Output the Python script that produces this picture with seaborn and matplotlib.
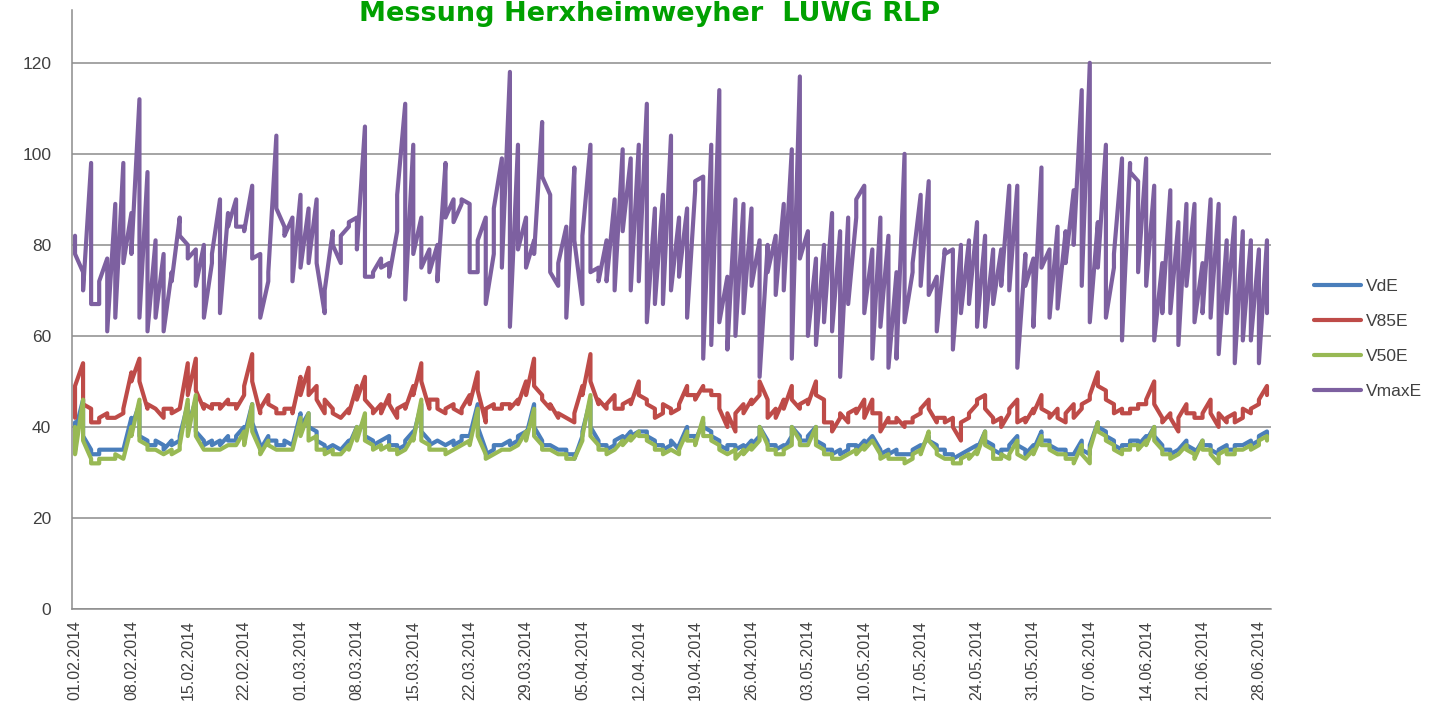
import pandas as pd
import numpy as np
import matplotlib
matplotlib.use("Agg")
import matplotlib.pyplot as plt
import matplotlib.dates as mdates
import seaborn as sns

# two readings per day, 01.02.2014 - 29.06.2014
days = pd.date_range("2014-02-01", "2014-06-29", freq="D")

vde = [41,39, 46,38, 35,34, 34,35, 35,35, 35,35, 35,35, 42,40, 45,38, 37,36,
       36,37, 36,35, 37,36, 37,38, 45,40, 46,39, 37,36, 37,36, 37,36, 38,37,
       37,38, 40,38, 45,41, 36,35, 38,37, 37,36, 36,37, 36,36, 43,40, 43,40,
       39,37, 36,35, 36,36, 35,35, 37,36, 40,38, 42,38, 37,36, 37,37, 38,36,
       36,35, 36,37, 39,38, 45,39, 37,36, 37,37, 36,36, 37,36, 37,38, 38,38,
       45,40, 35,34, 35,36, 36,36, 37,36, 37,38, 39,38, 45,40, 37,36, 36,36,
       35,35, 35,34, 34,33, 38,39, 46,40, 37,36, 36,35, 36,37, 38,37, 39,38,
       39,39, 39,38, 37,36, 36,35, 36,37, 35,36, 40,38, 38,37, 41,40, 39,38,
       37,36, 35,36, 36,35, 36,35, 37,36, 38,40, 37,36, 36,35, 36,35, 38,40,
       38,37, 37,38, 40,37, 36,35, 35,34, 35,34, 35,36, 36,35, 37,36, 38,38,
       35,34, 35,34, 35,34, 34,34, 34,35, 36,35, 38,37, 36,35, 35,34, 34,33,
       34,34, 35,35, 36,35, 39,37, 36,35, 34,35, 35,36, 38,36, 35,34, 36,35,
       39,37, 37,36, 35,35, 35,34, 34,34, 37,35, 34,36, 41,40, 39,38, 37,36,
       35,36, 36,37, 37,36, 38,37, 40,38, 36,35, 35,34, 35,35, 37,36, 35,34,
       37,36, 36,35, 34,35, 36,35, 35,36, 36,36, 37,36, 37,38, 39,38]

v85 = [42,49, 54,45, 44,41, 41,42, 43,42, 42,42, 43,44, 52,50, 55,50, 44,45,
       44,44, 42,44, 44,43, 44,44, 54,47, 55,48, 44,45, 44,45, 45,44, 46,45,
       45,44, 47,49, 56,50, 43,44, 47,45, 44,43, 43,44, 44,43, 51,47, 53,47,
       49,46, 43,46, 44,43, 42,42, 44,43, 49,46, 51,46, 44,43, 45,43, 47,45,
       42,44, 45,44, 49,47, 54,50, 44,46, 46,44, 43,44, 45,44, 43,44, 47,45,
       52,48, 41,44, 45,44, 44,45, 45,44, 46,45, 50,47, 55,49, 47,46, 44,45,
       42,43, 42,42, 41,43, 49,47, 56,50, 45,46, 44,45, 47,44, 44,45, 46,45,
       50,47, 46,45, 44,42, 43,45, 44,43, 44,45, 49,47, 47,46, 49,48, 48,47,
       47,44, 40,43, 39,43, 45,43, 46,45, 47,50, 46,42, 44,42, 46,44, 49,46,
       44,45, 46,45, 50,47, 46,41, 41,39, 42,43, 41,43, 44,43, 46,42, 46,43,
       43,39, 42,41, 41,42, 40,41, 41,42, 43,44, 46,44, 41,42, 42,41, 42,40,
       37,41, 42,43, 45,46, 47,44, 42,41, 42,40, 43,44, 46,41, 42,41, 44,43,
       47,44, 43,42, 44,42, 41,43, 45,42, 44,45, 46,47, 52,49, 48,46, 45,43,
       44,43, 43,44, 44,45, 45,46, 50,45, 42,41, 43,42, 39,42, 45,43, 43,42,
       42,43, 46,43, 40,43, 41,42, 43,41, 42,44, 43,44, 45,46, 49,47]

v50 = [40,34, 46,37, 33,32, 32,33, 33,33, 33,34, 33,33, 40,38, 46,37, 36,35,
       35,35, 34,34, 35,34, 35,36, 46,38, 47,38, 35,35, 35,35, 35,35, 36,36,
       36,36, 39,36, 45,39, 35,34, 37,36, 35,35, 35,35, 35,35, 42,38, 43,37,
       38,35, 35,34, 35,34, 34,34, 36,35, 40,37, 43,37, 36,35, 36,35, 36,35,
       35,34, 35,35, 38,37, 46,37, 36,35, 35,35, 35,34, 35,35, 36,36, 37,36,
       44,38, 34,33, 34,34, 35,35, 35,35, 36,36, 39,37, 44,38, 36,35, 35,35,
       34,34, 34,33, 33,33, 37,38, 47,38, 36,35, 35,34, 35,35, 37,36, 38,37,
       39,38, 38,37, 36,35, 35,34, 35,35, 34,35, 39,37, 37,36, 42,38, 38,37,
       36,35, 34,34, 35,33, 35,34, 36,35, 37,40, 36,35, 35,34, 34,35, 36,40,
       37,36, 36,36, 40,36, 35,34, 34,33, 33,33, 34,34, 35,34, 36,35, 37,37,
       34,33, 34,33, 33,33, 33,32, 33,34, 35,34, 39,37, 35,34, 33,33, 33,32,
       32,33, 34,33, 35,34, 39,36, 35,33, 33,34, 33,34, 37,34, 33,33, 35,34,
       38,36, 36,35, 34,34, 34,33, 33,32, 36,34, 32,35, 41,39, 38,37, 36,35,
       34,35, 35,36, 36,35, 37,36, 40,37, 35,34, 34,33, 34,34, 36,35, 34,33,
       37,35, 35,34, 32,34, 35,34, 34,35, 35,35, 36,35, 36,37, 38,37]

vmax = [82,78, 74,70, 98,67, 67,72, 77,61, 89,64, 98,76, 87,78, 112,64, 96,61,
        81,64, 78,61, 74,72, 86,82, 80,77, 79,71, 80,64, 76,78, 90,65, 87,84,
        90,84, 84,83, 93,77, 78,64, 72,74, 104,88, 84,82, 86,72, 91,75, 88,76,
        90,76, 65,70, 83,80, 76,82, 84,85, 86,79, 106,73, 73,74, 77,75, 76,73,
        83,91, 111,68, 102,78, 86,75, 79,74, 80,72, 98,86, 90,85, 89,90, 89,74,
        74,81, 86,67, 78,88, 99,75, 118,62, 102,79, 86,75, 81,78, 107,95, 91,74,
        71,76, 84,64, 97,81, 67,82, 102,74, 75,72, 81,72, 90,70, 101,83, 99,70,
        102,72, 111,63, 88,67, 91,67, 104,70, 86,73, 88,64, 92,94, 95,55, 102,58,
        114,63, 73,57, 90,60, 89,65, 88,71, 81,51, 80,74, 82,69, 89,70, 101,55,
        117,77, 83,60, 77,58, 80,63, 87,61, 83,51, 86,67, 86,90, 93,65, 79,55,
        86,62, 82,53, 74,55, 100,63, 74,76, 91,71, 94,69, 73,61, 79,78, 79,57,
        80,65, 81,67, 85,62, 82,62, 79,67, 79,71, 93,70, 93,53, 78,71, 77,62,
        97,75, 79,64, 84,66, 83,76, 92,80, 114,71, 120,63, 85,75, 102,64, 75,78,
        99,59, 98,96, 94,74, 99,71, 93,59, 76,65, 92,65, 85,58, 89,71, 89,63,
        76,65, 90,64, 89,56, 81,65, 86,54, 83,59, 81,59, 79,54, 81,65]

series_names = ["VdE", "V85E", "V50E", "VmaxE"]
colors = ["#4A7EBB", "#BE4B48", "#98B954", "#7D60A0"]

dates = np.repeat(days.values, 2)
frames = []
for name, vals in zip(series_names, [vde, v85, v50, vmax]):
    frames.append(pd.DataFrame({"Datum": dates, "Wert": vals, "Reihe": name}))
df = pd.concat(frames, ignore_index=True)

sns.set_style("white")
plt.rcParams["font.family"] = ["Liberation Sans", "DejaVu Sans"]

fig = plt.figure(figsize=(14.32, 7.09), dpi=100)
ax = fig.add_axes([72 / 1432, 1 - 609 / 709, (1271 - 72) / 1432, (609 - 10) / 709])

sns.lineplot(data=df, x="Datum", y="Wert", hue="Reihe", hue_order=series_names,
             palette=colors, estimator=None, sort=False, linewidth=3.0, ax=ax,
             legend=False)

ax.set_xlim(days[0] - pd.Timedelta(hours=9), days[-1] + pd.Timedelta(hours=12))
ax.set_ylim(0, 131.6)
ax.set_yticks(range(0, 121, 20))
ticks = pd.date_range("2014-02-01", "2014-06-28", freq="7D")
ax.set_xticks(ticks)
ax.xaxis.set_major_formatter(mdates.DateFormatter("%d.%m.%Y"))
plt.setp(ax.get_xticklabels(), rotation=90)
ax.set_xlabel("")
ax.set_ylabel("")

ax.grid(axis="y", color="#8C8C8C", linewidth=1.1)
ax.set_axisbelow(True)
for s in ["top", "right"]:
    ax.spines[s].set_visible(False)
for s in ["left", "bottom"]:
    ax.spines[s].set_color("#8C8C8C")
    ax.spines[s].set_linewidth(1.1)
ax.tick_params(axis="both", which="major", direction="out", length=5, width=1,
               color="#8C8C8C", labelcolor="#404040")
ax.tick_params(axis="y", labelsize=12.5, pad=10)
ax.tick_params(axis="x", labelsize=11.5, pad=3)

handles = [plt.Line2D([], [], color=c, linewidth=3.0) for c in colors]
fig.legend(handles, series_names, loc="upper left", frameon=False,
           bbox_to_anchor=(1298 / 1432, 1 - 263 / 709), fontsize=12.5,
           handlelength=2.7, handletextpad=0.3, labelspacing=1.15,
           labelcolor="#404040")

fig.text(650 / 1432, 1 - 21 / 709, "Messung Herxheimweyher  LUWG RLP",
         ha="center", va="baseline", color="#00A000", fontsize=19.5,
         fontweight="bold", family="DejaVu Sans")

fig.savefig("out.png", dpi=100)
